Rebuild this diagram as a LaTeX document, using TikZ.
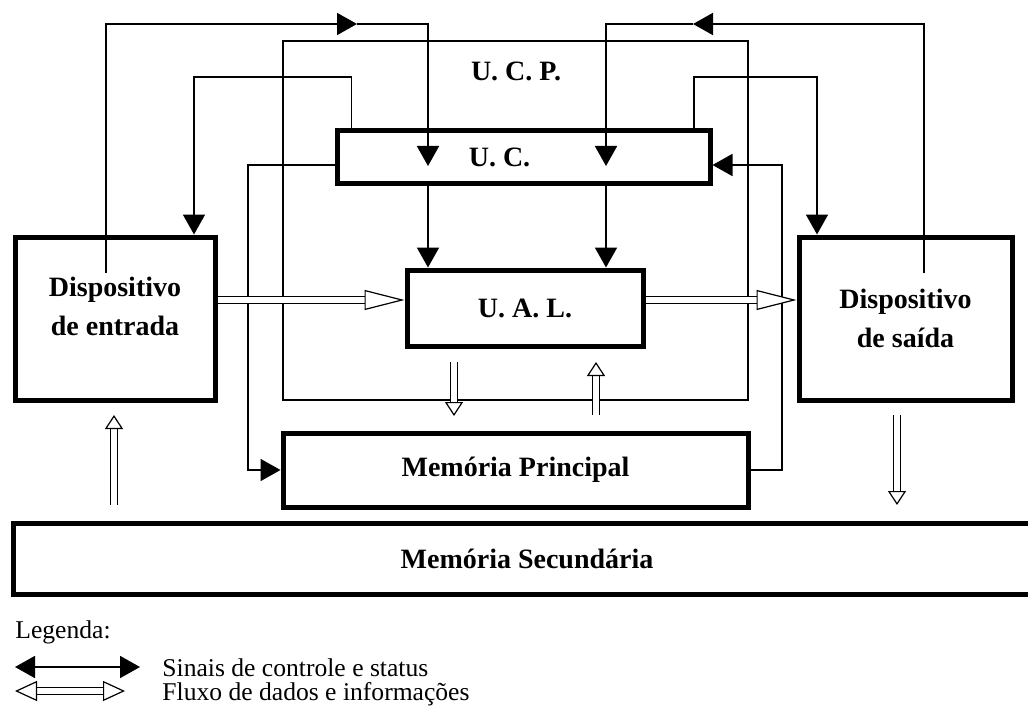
\documentclass[tikz,border=0pt]{standalone}
\usepackage{fontspec}
\setmainfont{Liberation Serif}
\usetikzlibrary{arrows.meta,calc}

\begin{document}
\begin{tikzpicture}
  [x=0.5pt,y=-0.5pt,
   box/.style={draw,line width=2.5pt,inner sep=0pt,align=center,
     font=\fontsize{14}{19.5}\selectfont\bfseries},
   sig/.style={line width=0.9pt,>={Triangle[length=10pt,width=11pt]},->},
   flow/.style={double,line width=0.6pt,double distance=2.8pt,
     -{Triangle[fill=white,length=20pt,width=10pt,line width=0.6pt]}},
   vflow/.style={flow,-{Triangle[fill=white,length=7pt,width=9pt,line width=0.6pt]}},
   legtext/.style={anchor=base west,inner sep=0pt,font=\fontsize{12.8}{15}\selectfont}]
  \useasboundingbox (0,0) rectangle (1028,706);
  \clip (0,0) rectangle (1028,706);

  \node[draw,line width=0.9pt,minimum width=232.5pt,minimum height=179.5pt] (ucp) at (515.5,220.5) {};
  \node[font=\fontsize{14}{17}\selectfont\bfseries] (ucplab) at (516,71) {U. C. P.};

  \node[box,minimum width=100pt,minimum height=81.5pt] (ent) at (115,318.5) {Dispositivo\\de entrada\\[-7pt]};
  \node[box,minimum width=106.5pt,minimum height=81.5pt] (sai) at (905.5,318.5) {Dispositivo\\de saída};
  \node[box,minimum width=186.5pt,minimum height=26pt] (uc) at (523.5,157) {U. C.\hspace*{24pt}};
  \node[box,minimum width=118pt,minimum height=38pt] (ual) at (525,308) {U. A. L.};
  \node[box,minimum width=232.5pt,minimum height=37pt] (mp) at (515.5,470) {Memória Principal};
  \node[box,minimum width=514pt,minimum height=35.5pt] (ms) at (527,558.5) {Memória Secundária};
%  \node[box] (ms) at (514,558.5) {Memória Secundária};

  \coordinate (e1) at (106,273);
  \coordinate (m1) at (357,24);
  \coordinate (uc1) at (428,166);
  \coordinate (s1) at (924,273);
  \coordinate (m2) at (693,24);
  \coordinate (uc2) at (606,166);
  \coordinate (b3) at (194,77);
  \coordinate (b4) at (817,77);
  \coordinate (b5) at (248,470);
  \coordinate (b6) at (782,470);
  \coordinate (d) at (0,300);

  \draw[sig] (e1) |- (m1);
  \draw[sig] (m1) -| (uc1);
  \draw[sig] (s1) |- (m2);
  \draw[sig] (m2) -| (uc2);
  \draw[sig] ([xshift=8.5pt]uc.north west) |- (b3) -- (b3 |- ent.north);
  \draw[sig] ([xshift=-9.25pt]uc.north east) |- (b4) -- (b4 |- sai.north);
  \draw[sig] ([yshift=-4pt]uc.west) -| (b5) -- (mp.west);
  \draw[sig] (mp.east) -- (b6) |- ([yshift=-4pt]uc.east);
  \foreach \c in {uc1,uc2}
    \draw[sig] (\c |- uc.south) -- (\c |- ual.north);

  \draw[flow] (ent.east |- d) -- (ual.west |- d);
  \draw[flow] (ual.east |- d) -- (sai.west |- d);

  \coordinate (v1) at (454,362);
  \coordinate (v2) at (454,416);
  \coordinate (v3) at (596,415);
  \coordinate (v4) at (596,362);
  \coordinate (v5) at (114,505);
  \coordinate (v6) at (114,415);
  \coordinate (v7) at (897,415);
  \coordinate (v8) at (897,505);
  \foreach \from/\to in {v1/v2, v3/v4, v5/v6, v7/v8}
    \draw[vflow] (\from) -- (\to);

  % legenda
  \node[legtext] (leg) at (15,638) {Legenda:};
  \coordinate (l1) at (15,667);
  \coordinate (l2) at (140,667);
  \coordinate (l3) at (15,691);
  \coordinate (l4) at (125,691);
  \draw[sig,<->] (l1) -- (l2);
  \draw[flow,{Triangle[fill=white,length=11pt,width=10pt,line width=0.6pt]}-{Triangle[fill=white,length=11pt,width=10pt,line width=0.6pt]}] (l3) -- (l4);
  \node[legtext] (leg1) at (162,676) {Sinais de controle e status};
  \node[legtext] (leg2) at (162,700) {Fluxo de dados e informações};
\end{tikzpicture}
\end{document}
